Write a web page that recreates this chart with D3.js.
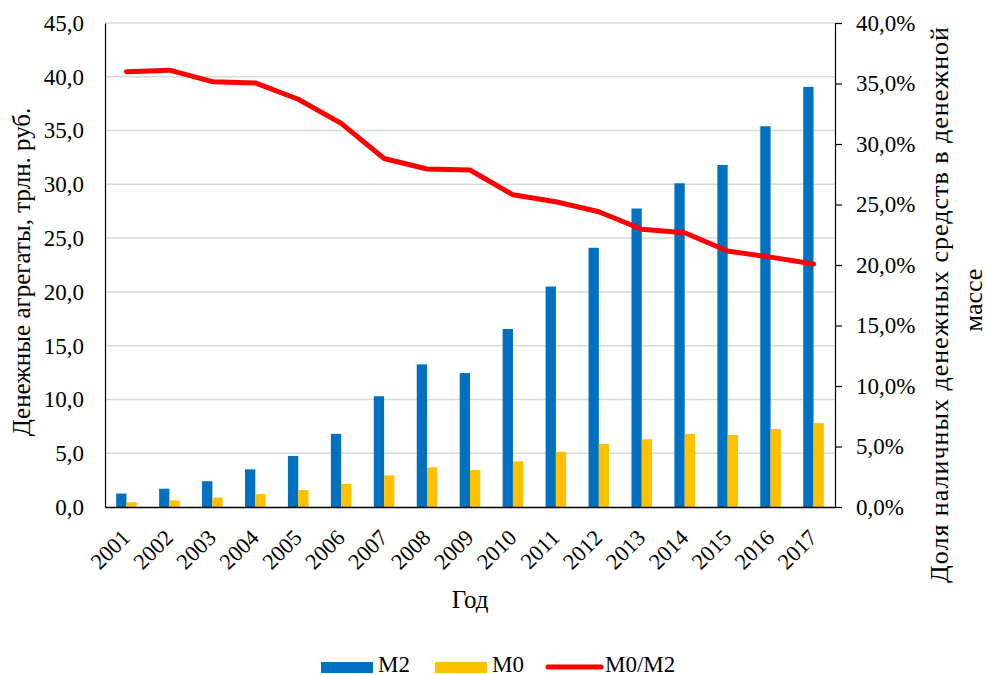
<!DOCTYPE html>
<html><head><meta charset="utf-8">
<script src="https://cdn.jsdelivr.net/npm/d3@7"></script>
<style>body{margin:0;background:#fff}svg{display:block}</style>
</head><body><svg id="c" width="985" height="675"></svg>
<script>
const years = ["2001","2002","2003","2004","2005","2006","2007","2008","2009","2010","2011","2012","2013","2014","2015","2016","2017"];
const m2 = [1.25,1.7,2.4,3.5,4.75,6.8,10.3,13.26,12.45,16.55,20.5,24.1,27.75,30.1,31.8,35.4,39.06];
const m0 = [0.45,0.62,0.88,1.2,1.58,2.14,2.94,3.69,3.44,4.26,5.13,5.85,6.3,6.8,6.7,7.25,7.8];
const ratio = [35.98,36.1,35.15,35.05,33.7,31.7,28.8,27.93,27.85,25.8,25.23,24.4,22.95,22.67,21.16,20.65,20.08];
const leftTicks = [0,5,10,15,20,25,30,35,40,45];
const rightTicks = [0,5,10,15,20,25,30,35,40];
const colors = {M2:"#0070C0", M0:"#FFC000", "M0/M2":"#FF0000"};
const FONT = "'Liberation Serif', 'Times New Roman', serif";

const svg = d3.select("#c");
const L=105, R=835, T=23, B=507;
const x = d3.scaleBand().domain(years).range([L,R]);
const xs = d3.scaleBand().domain(["M2","M0"]).range([-10.3,10.3]);
const yL = d3.scaleLinear().domain([0,45]).range([B,T]);
const yR = d3.scaleLinear().domain([0,40]).range([B,T]);
const fmt = d => d.toFixed(1).replace(".",",");

svg.append("g").selectAll("line").data(leftTicks.slice(1)).join("line")
  .attr("x1",L).attr("x2",R).attr("y1",d=>yL(d)).attr("y2",d=>yL(d))
  .attr("stroke","#d9d9d9").attr("stroke-width",1.5);

const bars = svg.append("g");
bars.selectAll(".m2").data(years).join("rect")
  .attr("x",(d)=>x(d)+x.bandwidth()/2+xs("M2")).attr("width",xs.bandwidth())
  .attr("y",(d,i)=>yL(m2[i])).attr("height",(d,i)=>B-yL(m2[i])).attr("fill",colors.M2);
bars.selectAll(".m0").data(years).join("rect")
  .attr("x",(d)=>x(d)+x.bandwidth()/2+xs("M0")).attr("width",xs.bandwidth())
  .attr("y",(d,i)=>yL(m0[i])).attr("height",(d,i)=>B-yL(m0[i])).attr("fill",colors.M0);

const gl = svg.append("g").attr("transform",`translate(${L},0)`)
  .call(d3.axisLeft(yL).tickValues(leftTicks).tickFormat(fmt).tickSize(0).tickPadding(21));
gl.select(".domain").attr("stroke","#000").attr("stroke-width",1.2);
gl.selectAll("text").style("font-family",FONT).style("font-size","23px").attr("fill","#000");

const gr = svg.append("g").attr("transform",`translate(${R},0)`)
  .call(d3.axisRight(yR).tickValues(rightTicks).tickFormat(d=>fmt(d)+"%").tickSize(7).tickSizeOuter(0).tickPadding(14));
gr.select(".domain").attr("stroke","#000").attr("stroke-width",1.2);
gr.selectAll("line").attr("stroke","#000").attr("stroke-width",1.2);
gr.selectAll("text").style("font-family",FONT).style("font-size","23px").attr("fill","#000");

const gb = svg.append("g").attr("transform",`translate(0,${B})`)
  .call(d3.axisBottom(x).tickSize(0).tickPadding(0));
gb.select(".domain").attr("stroke","#000").attr("stroke-width",1.5);
gb.selectAll("text").style("font-family",FONT).style("font-size","22.5px").attr("fill","#000")
  .attr("text-anchor","end").attr("dy",null).attr("y",0)
  .attr("transform","translate(5,32) rotate(-45)");

const line = d3.line().x((d,i)=>x(years[i])+x.bandwidth()/2).y(d=>yR(d));
svg.append("path").datum(ratio).attr("d",line).attr("fill","none")
  .attr("stroke",colors["M0/M2"]).attr("stroke-width",5).attr("stroke-linecap","round").attr("stroke-linejoin","round");

function title(tr, txt, size){
  return svg.append("text").attr("transform",tr).attr("text-anchor","middle")
    .style("font-family",FONT).style("font-size",(size||25)+"px").attr("fill","#000").text(txt);
}
title("translate(30,272) rotate(-90)","Денежные агрегаты, трлн. руб.");
title("translate(948,305) rotate(-90)","Доля наличных денежных средств в денежной", 26)
  .attr("textLength",556).attr("lengthAdjust","spacing");
title("translate(982,300) rotate(-90)","массе", 26);
title(`translate(${(L+R)/2},608)`,"Год");

const lg = svg.append("g");
const legItems = [{n:"M2",x:321,type:"rect"},{n:"M0",x:435,type:"rect"},{n:"M0/M2",x:548,type:"line"}];
legItems.forEach(it=>{
  if(it.type==="rect") lg.append("rect").attr("x",it.x).attr("y",662).attr("width",52).attr("height",11).attr("fill",colors[it.n]);
  else lg.append("line").attr("x1",it.x).attr("x2",it.x+53).attr("y1",667).attr("y2",667).attr("stroke",colors[it.n]).attr("stroke-width",5).attr("stroke-linecap","round");
  lg.append("text").attr("x",it.x+57).attr("y",672).style("font-family",FONT).style("font-size","23px").attr("fill","#000").text(it.n);
});
</script></body></html>
